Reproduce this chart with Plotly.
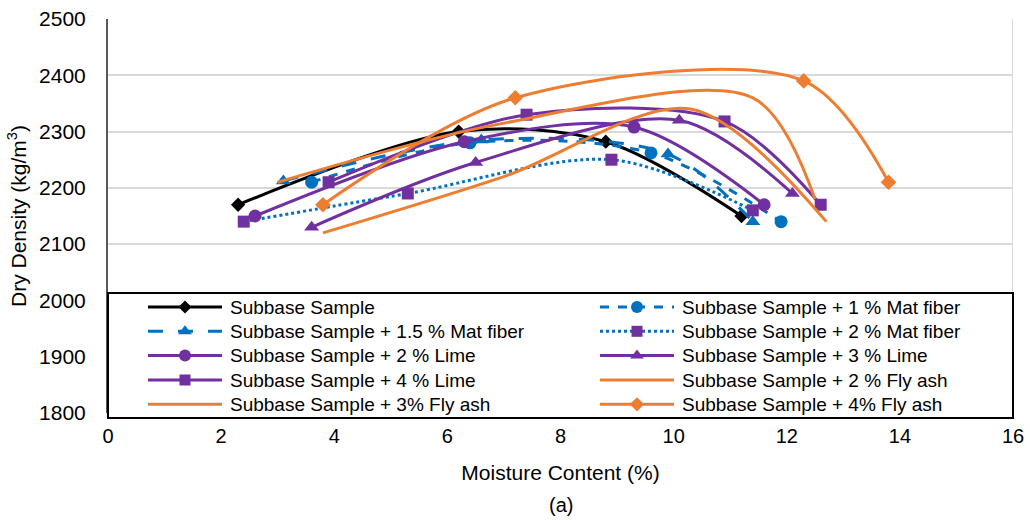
import plotly.graph_objects as go

# ---- data ----
names = [
    "Subbase Sample",
    "Subbase Sample + 1 % Mat fiber",
    "Subbase Sample + 1.5 % Mat fiber",
    "Subbase Sample + 2 % Mat fiber",
    "Subbase Sample + 2 % Lime",
    "Subbase Sample + 3 % Lime",
    "Subbase Sample + 4 % Lime",
    "Subbase Sample + 2 % Fly ash",
    "Subbase Sample + 3% Fly ash",
    "Subbase Sample + 4% Fly ash",
]

mc_base = [2.3, 6.2, 8.8, 11.2]
dd_base = [2170, 2300, 2282, 2150]

mc_mat1 = [3.6, 6.4, 9.6, 11.9]
dd_mat1 = [2210, 2280, 2262, 2140]

mc_mat15 = [3.1, 6.6, 9.9, 11.4]
dd_mat15 = [2212, 2285, 2260, 2140]

mc_mat2 = [2.4, 5.3, 8.9, 11.4]
dd_mat2 = [2140, 2190, 2250, 2160]

mc_lime2 = [2.6, 6.3, 9.3, 11.6]
dd_lime2 = [2150, 2282, 2308, 2170]

mc_lime3 = [3.6, 6.5, 10.1, 12.1]
dd_lime3 = [2130, 2245, 2320, 2190]

mc_lime4 = [3.9, 7.4, 10.9, 12.6]
dd_lime4 = [2210, 2330, 2318, 2170]

mc_fly2 = [3.8, 7.0, 10.3, 12.7]
dd_fly2 = [2120, 2220, 2340, 2140]

mc_fly3 = [3.0, 7.0, 11.4, 12.5]
dd_fly3 = [2210, 2315, 2360, 2180]

mc_fly4 = [3.8, 7.2, 12.3, 13.8]
dd_fly4 = [2170, 2360, 2390, 2210]

xs = [mc_base, mc_mat1, mc_mat15, mc_mat2, mc_lime2, mc_lime3, mc_lime4, mc_fly2, mc_fly3, mc_fly4]
ys = [dd_base, dd_mat1, dd_mat15, dd_mat2, dd_lime2, dd_lime3, dd_lime4, dd_fly2, dd_fly3, dd_fly4]

x_ticks = [0, 2, 4, 6, 8, 10, 12, 14, 16]
y_ticks = [1800, 1900, 2000, 2100, 2200, 2300, 2400, 2500]

# ---- styles ----
BLACK = "#000000"
BLUE = "#0070C0"
PURPLE = "#7030A0"
ORANGE = "#ED7D31"
GRID = "#d9d9d9"
FONT = "Liberation Sans, Arial, sans-serif"

line_colors = [BLACK, BLUE, BLUE, BLUE, PURPLE, PURPLE, PURPLE, ORANGE, ORANGE, ORANGE]
marker_colors = [BLACK, BLUE, BLUE, PURPLE, PURPLE, PURPLE, PURPLE, ORANGE, ORANGE, ORANGE]
dashes = ["solid", "dash", "longdash", "dot", "solid", "solid", "solid", "solid", "solid", "solid"]
symbols = ["diamond", "circle", "triangle-up", "square", "circle", "triangle-up", "square", None, None, "diamond"]
sizes = [11, 13, 13, 12, 13, 13, 12, 0, 0, 12]

# figure geometry (pixels)
W, H = 1030, 520
ML, MR, MT, MB = 108, 17, 19, 107
PX0, PX1 = ML, W - MR          # plot area left/right
PY0, PY1 = MT, H - MB          # plot area top/bottom
XR = [0, 16]
YR = [1800, 2500]


def px2x(px):
    return XR[0] + (px - PX0) / (PX1 - PX0) * (XR[1] - XR[0])


def px2y(py):
    return YR[1] - (py - PY0) / (PY1 - PY0) * (YR[1] - YR[0])


def px2paper_y(py):
    return (PY1 - py) / (PY1 - PY0)


fig = go.Figure()
for i in range(len(names)):
    mode = "lines+markers" if symbols[i] else "lines"
    fig.add_trace(go.Scatter(
        x=xs[i], y=ys[i], name=names[i], mode=mode, showlegend=False,
        line=dict(color=line_colors[i], width=3, dash=dashes[i], shape="spline", smoothing=0.9),
        marker=dict(color=marker_colors[i], size=sizes[i], symbol=symbols[i] or "circle",
                    line=dict(width=0)),
    ))

# ---- hand-built legend on a pixel overlay axis ----
leg_top, leg_bottom = 293, 418
row_y = [307, 331.3, 355.6, 380, 404.3]
col_x = [148, 600]
sample_len = 74
text_gap = 6

annotations = []
for i in range(len(names)):
    r, c = i // 2, i % 2
    x0 = col_x[c]
    yv = row_y[r]
    fig.add_trace(go.Scatter(
        x=[x0, x0 + sample_len], y=[yv, yv],
        xaxis="x2", yaxis="y2", showlegend=False, hoverinfo="skip",
        mode="lines", line=dict(color=line_colors[i], width=3, dash=dashes[i]),
    ))
    if symbols[i] is not None:
        fig.add_trace(go.Scatter(
            x=[x0 + sample_len / 2], y=[yv],
            xaxis="x2", yaxis="y2", showlegend=False, hoverinfo="skip",
            mode="markers",
            marker=dict(color=marker_colors[i], size=sizes[i] - 1,
                        symbol=symbols[i], line=dict(width=0)),
        ))
    annotations.append(dict(
        text=names[i], x=x0 + sample_len + text_gap, y=yv, xref="x2", yref="y2",
        xanchor="left", yanchor="middle", showarrow=False,
        font=dict(family=FONT, size=19, color="#000000"),
    ))

annotations.append(dict(
    text="(a)", x=0.5, xref="paper", y=px2paper_y(505), yref="paper",
    xanchor="center", yanchor="middle", showarrow=False,
    font=dict(family=FONT, size=20, color="#000000"),
))

shapes = [
    # legend box fill (between grid and traces)
    dict(type="rect", xref="x", yref="y", x0=XR[0], x1=XR[1],
         y0=px2y(leg_top), y1=YR[0],
         fillcolor="white", line=dict(width=0), layer="between"),
    # right plot border (grey)
    dict(type="line", xref="x", yref="y", x0=XR[1], x1=XR[1], y0=px2y(leg_top), y1=YR[1],
         line=dict(color=GRID, width=2), layer="between"),
    # legend border
    dict(type="rect", xref="paper", yref="paper", x0=0, x1=1,
         y0=px2paper_y(leg_bottom), y1=px2paper_y(leg_top),
         fillcolor="rgba(0,0,0,0)", line=dict(color="#000000", width=2), layer="above"),
]

fig.update_layout(
    width=W, height=H,
    margin=dict(l=ML, r=MR, t=MT, b=MB, autoexpand=False),
    paper_bgcolor="white", plot_bgcolor="white",
    font=dict(family=FONT, color="#000000", size=20),
    showlegend=False,
    annotations=annotations,
    shapes=shapes,
    xaxis=dict(
        range=XR, tickvals=x_ticks, ticktext=[str(v) for v in x_ticks],
        showgrid=False, zeroline=False, showline=False,
        tickfont=dict(family=FONT, size=20), ticks="", ticklabelstandoff=9,
        title=dict(text="Moisture Content (%)", font=dict(family=FONT, size=21), standoff=19),
    ),
    yaxis=dict(
        range=YR, tickvals=y_ticks, ticktext=[str(v) for v in y_ticks],
        showgrid=True, gridcolor=GRID, gridwidth=2, zeroline=False,
        showline=True, linecolor="#595959", linewidth=2,
        tickfont=dict(family=FONT, size=21), ticks="", ticklabelstandoff=16,
        title=dict(text="Dry Density (kg/m<sup>3</sup>)", font=dict(family=FONT, size=21), standoff=7),
    ),
    xaxis2=dict(overlaying="x", range=[PX0, PX1], visible=False, fixedrange=True),
    yaxis2=dict(overlaying="y", range=[PY1, PY0], visible=False, fixedrange=True),
)

fig.write_html("out.html")
